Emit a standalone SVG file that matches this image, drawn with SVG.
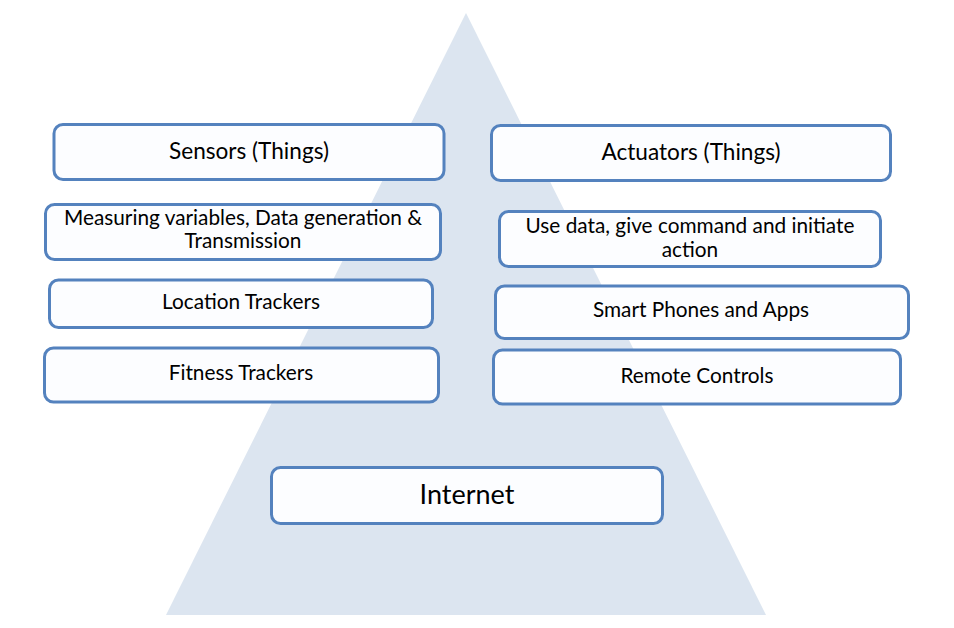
<svg xmlns="http://www.w3.org/2000/svg" width="954" height="628" viewBox="0 0 954 628">
<style>
.box{fill:#FCFDFF;stroke:#5482BE;stroke-width:3}
.t{font-family:Lato,"Open Sans","Liberation Sans",sans-serif;font-size:20.8px;fill:#000;text-anchor:middle}
.hd{font-size:22.6px}
.big{font-size:27px}
</style>
<rect width="954" height="628" fill="#FFFFFF"/>
<polygon points="466,13 766,615 166,615" fill="#DCE5F0"/>
<g id="connectors"></g>
<g id="sensors"><rect class="box" x="54" y="124.5" width="390" height="55" rx="9"/><text class="t hd" x="249" y="159">Sensors (Things)</text></g>
<g id="measuring"><rect class="box" x="45.5" y="204.5" width="395" height="55" rx="9"/><text class="t" x="243" y="225">Measuring variables, Data generation &amp;</text><text class="t" x="243" y="248">Transmission</text></g>
<g id="location"><rect class="box" x="49.5" y="280" width="383" height="47.5" rx="9"/><text class="t" x="241" y="309">Location Trackers</text></g>
<g id="fitness"><rect class="box" x="44.5" y="348" width="394" height="54" rx="9"/><text class="t" x="241" y="380">Fitness Trackers</text></g>
<g id="actuators"><rect class="box" x="491.5" y="125.5" width="399" height="55" rx="9"/><text class="t hd" x="691" y="160">Actuators (Things)</text></g>
<g id="usedata"><rect class="box" x="499.5" y="211.5" width="381" height="55" rx="9"/><text class="t" x="690" y="233">Use data, give command and initiate</text><text class="t" x="690" y="257">action</text></g>
<g id="smartphones"><rect class="box" x="495.5" y="286" width="413" height="52.5" rx="9"/><text class="t" x="701" y="317">Smart Phones and Apps</text></g>
<g id="remote"><rect class="box" x="493.5" y="350" width="407" height="54" rx="9"/><text class="t" x="697" y="383">Remote Controls</text></g>
<g id="internet"><rect class="box" x="271.5" y="467.5" width="391" height="56" rx="9"/><text class="t big" x="467" y="504">Internet</text></g>
</svg>
